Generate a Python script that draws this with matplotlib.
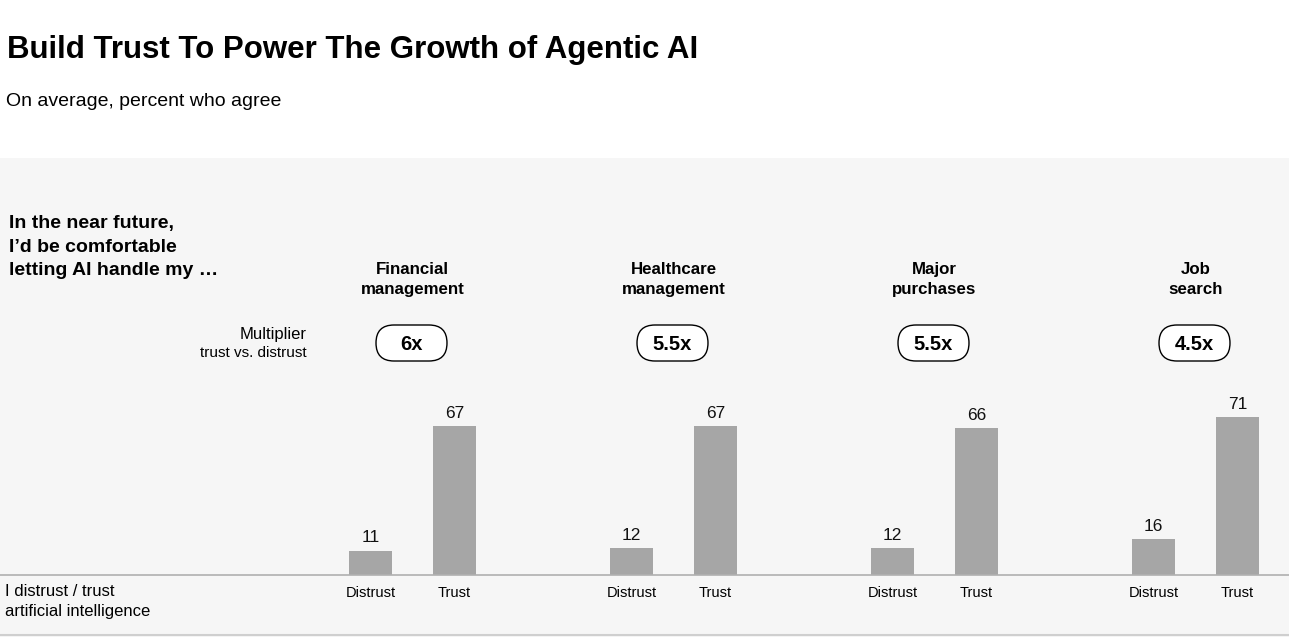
import numpy as np
import matplotlib
matplotlib.use("Agg")
import matplotlib.pyplot as plt
from matplotlib.patches import Rectangle, FancyBboxPatch
from matplotlib.lines import Line2D
from matplotlib import transforms

plt.rcParams['font.family'] = ['Liberation Sans', 'DejaVu Sans']

# Dados do gráfico
titulo = "Build Trust To Power The Growth of Agentic AI"
subtitulo = "On average, percent who agree"
pergunta = ["In the near future,", "I\u2019d be comfortable", "letting AI handle my \u2026"]
categorias = [["Financial", "management"], ["Healthcare", "management"],
              ["Major", "purchases"], ["Job", "search"]]
multiplicadores = ["6x", "5.5x", "5.5x", "4.5x"]
desconfia = [11, 12, 12, 16]
confia = [67, 67, 66, 71]
rotulos = ["Distrust", "Trust"]
eixo_legenda = ["I distrust / trust", "artificial intelligence"]

W, H = 1289, 637
fig = plt.figure(figsize=(W / 100, H / 100), dpi=100)
fig.patch.set_facecolor('white')

def fy(py):
    return 1 - py / H

def fx(px):
    return px / W

# painel cinza de fundo
fig.add_artist(Rectangle((0, 0), 1, fy(158), transform=fig.transFigure,
                         fc='#f6f6f6', ec='none', zorder=0))

# eixos: 1 unidade em x = distância entre grupos (261 px)
passo = 261.0
primeiro = 370.5
ax = fig.add_axes([0, fy(575), 1, (575 - 375) / H])
ax.patch.set_alpha(0)
ax.set_xlim(-primeiro / passo, (W - primeiro) / passo)
ax.set_ylim(0, 200 / 2.224)
for s in ax.spines.values():
    s.set_visible(False)
ax.set_xticks([])
ax.set_yticks([])

x = np.arange(len(categorias))
desloc = 84 / passo
largura = 43 / passo
cor_barra = '#a6a6a6'
ax.bar(x, desconfia, width=largura, color=cor_barra, zorder=2)
ax.bar(x + desloc, confia, width=largura, color=cor_barra, zorder=2)
ax.axhline(0, color='#b0b0b0', lw=1.2, zorder=3, clip_on=False)

for xi, v in zip(x, desconfia):
    ax.annotate(str(v), (xi, v), xytext=(0, 6), textcoords='offset points',
                ha='center', va='baseline', fontsize=12.5, color='#111111')
for xi, v in zip(x + desloc, confia):
    ax.annotate(str(v), (xi, v), xytext=(0, 6), textcoords='offset points',
                ha='center', va='baseline', fontsize=12.5, color='#111111')

trans = transforms.blended_transform_factory(ax.transData, fig.transFigure)

for i in range(len(categorias)):
    ax.text(x[i], fy(597), rotulos[0], transform=trans, ha='center', va='baseline', fontsize=10.5)
    ax.text(x[i] + desloc, fy(597), rotulos[1], transform=trans, ha='center', va='baseline', fontsize=10.5)
    centro = x[i] + desloc / 2
    for k, linha in enumerate(categorias[i]):
        ax.text(centro, fy(274 + 19.5 * k), linha, transform=trans, ha='center', va='baseline',
                fontsize=12.2, fontweight='bold')
    # pílula do multiplicador
    cp = centro - 1 / passo
    lw_p, lh_p = 71 / passo, 36 / H
    pill = FancyBboxPatch((cp - lw_p / 2, fy(361)), lw_p, lh_p,
                          boxstyle="round,pad=0,rounding_size=%f" % (18 / passo),
                          mutation_aspect=passo / H,
                          transform=trans, fc='white', ec='black', lw=1.0, clip_on=False)
    ax.add_artist(pill)
    ax.text(cp, fy(350.5), multiplicadores[i], transform=trans, ha='center', va='baseline',
            fontsize=14.5, fontweight='bold')

# textos do cabeçalho
fig.text(fx(7), fy(58), titulo, fontsize=22.5, fontweight='bold', va='baseline', ha='left')
fig.text(fx(6), fy(106), subtitulo, fontsize=14, va='baseline', ha='left')
for k, linha in enumerate(pergunta):
    fig.text(fx(9), fy(228 + 23.5 * k), linha, fontsize=14, fontweight='bold',
             va='baseline', ha='left')
fig.text(fx(307), fy(338.5), "Multiplier", fontsize=12, va='baseline', ha='right')
fig.text(fx(307), fy(357), "trust vs. distrust", fontsize=11, va='baseline', ha='right')
for k, linha in enumerate(eixo_legenda):
    fig.text(fx(5), fy(596 + 20 * k), linha, fontsize=12, va='baseline', ha='left')

fig.add_artist(Line2D([0, 1], [fy(634.5), fy(634.5)], transform=fig.transFigure,
                      color='#cfcfcf', lw=1.5))

fig.savefig('out.png', dpi=100)
